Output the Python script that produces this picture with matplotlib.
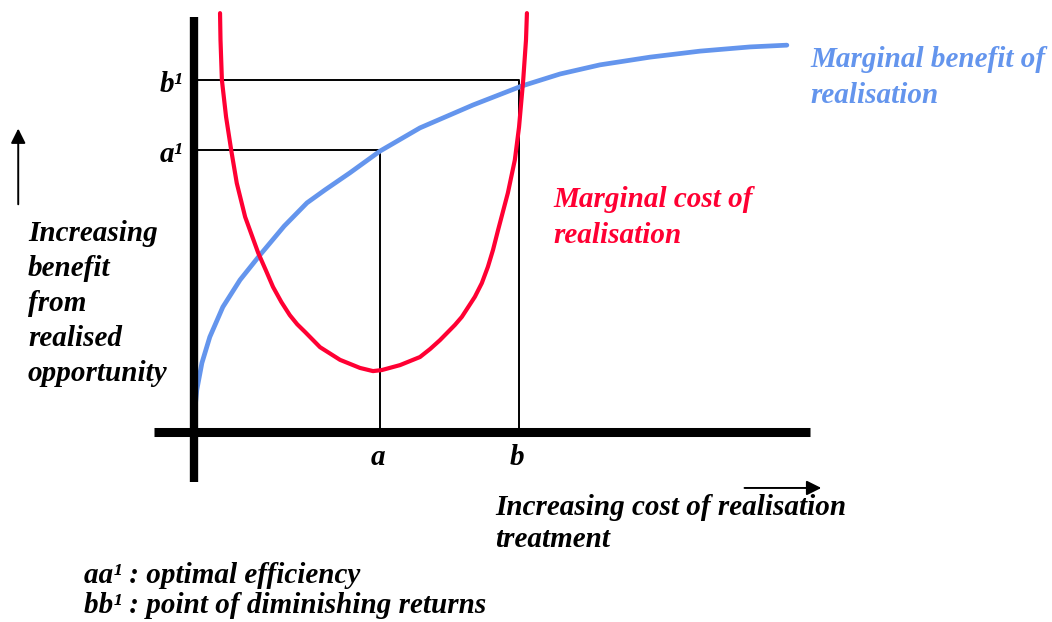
import matplotlib
matplotlib.use("Agg")
import matplotlib.pyplot as plt

# curve points (x = cost units, y = benefit units)
benefit_x = [0.00, 0.02, 0.06, 0.17, 0.34, 0.62, 0.99, 1.42, 1.94, 2.43, 2.82,
             3.35, 4.00, 4.86, 6.00, 7.05, 7.87, 8.73, 9.81, 10.88, 11.96, 12.75]
benefit_y = [0.00, 0.63, 1.19, 1.96, 2.70, 3.55, 4.32, 5.03, 5.85, 6.51, 6.88,
             7.36, 7.98, 8.64, 9.29, 9.83, 10.17, 10.43, 10.65, 10.82, 10.94, 10.99]

cost_x = [0.56, 0.57, 0.60, 0.69, 0.80, 0.92, 1.10, 1.38, 1.55, 1.70, 1.88, 2.06, 2.22,
          2.39, 2.71, 3.14, 3.57, 3.85, 4.04, 4.43, 4.86, 5.08, 5.29, 5.61, 5.76, 6.04,
          6.19, 6.32, 6.43, 6.54, 6.75, 6.90, 6.99, 7.08, 7.14, 7.16]
cost_y = [11.90, 11.14, 10.00, 8.95, 8.01, 7.07, 6.11, 5.09, 4.58, 4.12, 3.69, 3.32, 3.06,
          2.84, 2.41, 2.05, 1.82, 1.73, 1.76, 1.90, 2.13, 2.36, 2.61, 3.04, 3.27, 3.84,
          4.23, 4.69, 5.17, 5.74, 6.79, 7.73, 8.66, 10.00, 11.14, 11.90]

point_names = ["a", "b"]
point_x = [4.0, 7.0]
point_y = [8.0, 10.0]

notes = ["aa\u00b9 : optimal efficiency", "bb\u00b9 : point of diminishing returns"]

RED = "#FF0033"
BLUE = "#6495ED"
txt = dict(family="Liberation Serif", weight="bold", style="italic", fontsize=21)

fig = plt.figure(figsize=(10.52, 6.22), dpi=100)
ax = fig.add_axes([0, 0, 1, 1])
ax.set_xlim(-4.172, 18.452)
ax.set_ylim(-5.398, 12.273)
ax.axis("off")

# guide lines for a-a1 and b-b1
for px, py in zip(point_x, point_y):
    ax.plot([0, px, px], [py, py, 0], color="black", lw=1.4, zorder=2)

ax.plot(benefit_x, benefit_y, color=BLUE, lw=3.4, solid_joinstyle="round",
        solid_capstyle="round", zorder=3)
ax.plot(cost_x, cost_y, color=RED, lw=3.0, solid_joinstyle="round",
        solid_capstyle="round", zorder=4)

# thick axes
ax.plot([0, 0], [-1.42, 11.79], color="black", lw=6, solid_capstyle="butt", zorder=5)
ax.plot([-0.86, 13.25], [0, 0], color="black", lw=6.5, solid_capstyle="butt", zorder=5)

# labels on the axes
for name, px, py in zip(point_names, point_x, point_y):
    ax.text(px - 0.05, -0.94, name, ha="center", va="baseline", **txt)
    ax.text(-0.24, py - 0.34, name + "\u00b9", ha="right", va="baseline", **txt)

ax.annotate("", xy=(-3.78, 8.7), xytext=(-3.78, 6.39),
            arrowprops=dict(arrowstyle="-|>", color="black", lw=1.4, mutation_scale=22))
ax.annotate("", xy=(13.55, -1.59), xytext=(11.78, -1.59),
            arrowprops=dict(arrowstyle="-|>", color="black", lw=1.4, mutation_scale=22))

ax.text(-3.57, 1.45, "Increasing\nbenefit\nfrom\nrealised\nopportunity",
        ha="left", va="baseline", linespacing=1.38, **txt)
ax.text(6.47, -3.27, "Increasing cost of realisation\ntreatment",
        ha="left", va="baseline", linespacing=1.26, **txt)
ax.text(7.72, 5.37, "Marginal cost of\nrealisation", color=RED,
        ha="left", va="baseline", linespacing=1.42, **txt)
ax.text(13.25, 9.35, "Marginal benefit of\nrealisation", color=BLUE,
        ha="left", va="baseline", linespacing=1.42, **txt)
for i, note in enumerate(notes):
    ax.text(-2.36, -4.29 - 0.85 * i, note, ha="left", va="baseline", **txt)

fig.savefig("out.png", dpi=100)
